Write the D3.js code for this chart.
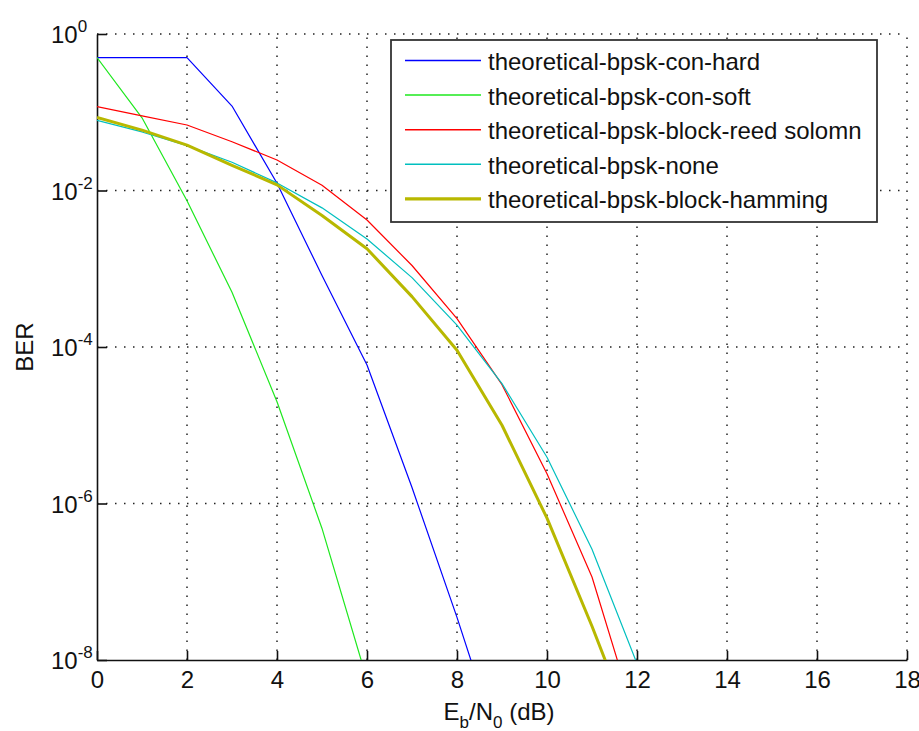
<!DOCTYPE html>
<meta charset="utf-8">
<head>
<script src="https://d3js.org/d3.v7.min.js"></script>
<style>
  body { margin: 0; background: #fff; }
  text { font-family: "Liberation Sans", Arial, sans-serif; font-size: 24px; fill: #111; }
  .grid line { stroke: #222; stroke-width: 1.5; stroke-dasharray: 1.5, 7.5; }
  .axis path, .axis line { stroke: #111; stroke-width: 1.6; }
</style>
</head>
<body>
<script>
// Eb/N0 (dB) sample points
var ebn0 = [0, 1, 2, 3, 4, 5, 6, 7, 8, 9, 10, 11, 12];

// BER values (series end where the curves leave the axes)
var conHard  = [0.5, 0.5, 0.5, 0.12, 0.0124, 8.2e-4, 5.9e-5, 1.6e-6, 3.5e-8, 6e-10];
var conSoft  = [0.5, 0.085, 7.4e-3, 5e-4, 2e-5, 4.8e-7, 5.6e-9];
var reedSol  = [0.118, 0.09, 0.0687, 0.042, 0.0245, 0.0117, 4.2e-3, 1.1e-3, 2.3e-4, 3.3e-5, 2.4e-6, 1.15e-7, 1.5e-9];
var noCoding = [0.079, 0.056, 0.0375, 0.023, 0.0125, 6e-3, 2.4e-3, 7.7e-4, 1.9e-4, 3.4e-5, 3.9e-6, 2.6e-7, 9e-9];
var hamming  = [0.086, 0.059, 0.038, 0.021, 0.0118, 4.8e-3, 1.8e-3, 4.4e-4, 9.1e-5, 1e-5, 6.5e-7, 2.7e-8, 9e-10];

var seriesNames = ["theoretical-bpsk-con-hard", "theoretical-bpsk-con-soft",
                   "theoretical-bpsk-block-reed solomn", "theoretical-bpsk-none",
                   "theoretical-bpsk-block-hamming"];
var seriesData = [conHard, conSoft, reedSol, noCoding, hamming];

var xTicks = [0, 2, 4, 6, 8, 10, 12, 14, 16, 18];
var yTickExps = [0, -2, -4, -6, -8];

// styles
var colors = ["#0000ff", "#1ee81e", "#ff0000", "#00bfbf", "#b8b800"];
var widths = [1.2, 1.2, 1.2, 1.2, 3];

var width = 919, height = 731;
var pL = 97, pR = 907, pT = 34, pB = 660;

var svg = d3.select("body").append("svg")
    .attr("width", width)
    .attr("height", height);

var x = d3.scaleLinear().domain([0, 18]).range([pL, pR]);
var y = d3.scaleLog().domain([1, 1e-8]).range([pT, pB]);

svg.append("defs").append("clipPath").attr("id", "plotclip")
  .append("rect")
    .attr("x", pL).attr("y", pT)
    .attr("width", pR - pL).attr("height", pB - pT);

// dotted grid
var grid = svg.append("g").attr("class", "grid");
grid.selectAll(".gx").data(xTicks.slice(1)).enter().append("line")
    .attr("x1", d => x(d)).attr("x2", d => x(d))
    .attr("y1", pB).attr("y2", pT);
grid.selectAll(".gy").data(yTickExps.slice(0, -1)).enter().append("line")
    .attr("x1", pL).attr("x2", pR)
    .attr("y1", d => y(Math.pow(10, d))).attr("y2", d => y(Math.pow(10, d)));

// axes (ticks pointing inward, MATLAB style)
var xAxis = svg.append("g").attr("class", "axis")
    .attr("transform", "translate(0," + pB + ")")
    .call(d3.axisBottom(x).tickValues(xTicks).tickSizeInner(-9).tickSizeOuter(0).tickPadding(11));
xAxis.selectAll("text").style("font-size", "24px").style("font-family", null).attr("dy", "0.71em");

var yAxis = svg.append("g").attr("class", "axis")
    .attr("transform", "translate(" + pL + ",0)")
    .call(d3.axisLeft(y).tickValues(yTickExps.map(e => Math.pow(10, e)))
      .tickSizeInner(-10).tickSizeOuter(0).tickFormat(""));

// y tick labels 10^n
var ylab = svg.append("g").selectAll("text").data(yTickExps).enter().append("text")
    .attr("x", 51)
    .attr("y", d => y(Math.pow(10, d)) + 9);
ylab.append("tspan").text("10");
ylab.append("tspan").attr("dy", -11).style("font-size", "17px").text(d => String(d));

// curves
var line = d3.line()
    .x((d, i) => x(ebn0[i]))
    .y(d => y(d));

svg.append("g").attr("clip-path", "url(#plotclip)")
  .selectAll("path").data(seriesData).enter().append("path")
    .attr("d", line)
    .attr("fill", "none")
    .attr("stroke", (d, i) => colors[i])
    .attr("stroke-width", (d, i) => widths[i])
    .attr("stroke-linejoin", "round");

// legend
var lg = svg.append("g");
lg.append("rect")
    .attr("x", 391).attr("y", 40)
    .attr("width", 486).attr("height", 182)
    .attr("fill", "#fff")
    .attr("stroke", "#333")
    .attr("stroke-width", 1.8);
var rows = lg.selectAll(".row").data(seriesNames).enter().append("g")
    .attr("transform", (d, i) => "translate(0," + (60.5 + i * 34.6) + ")");
rows.append("line")
    .attr("x1", 405).attr("x2", 481)
    .attr("stroke", (d, i) => colors[i])
    .attr("stroke-width", (d, i) => widths[i] + 0.3);
rows.append("text")
    .attr("x", 488).attr("y", 9.5)
    .text(d => d);

// axis titles
var xt = svg.append("text")
    .attr("x", 499).attr("y", 720)
    .attr("text-anchor", "middle");
xt.append("tspan").text("E");
xt.append("tspan").attr("dy", 8).style("font-size", "17px").text("b");
xt.append("tspan").attr("dy", -8).text("/N");
xt.append("tspan").attr("dy", 8).style("font-size", "17px").text("0");
xt.append("tspan").attr("dy", -8).text(" (dB)");

svg.append("text")
    .attr("transform", "translate(33," + ((pT + pB) / 2) + ") rotate(-90)")
    .attr("text-anchor", "middle")
    .text("BER");
</script>
</body>
